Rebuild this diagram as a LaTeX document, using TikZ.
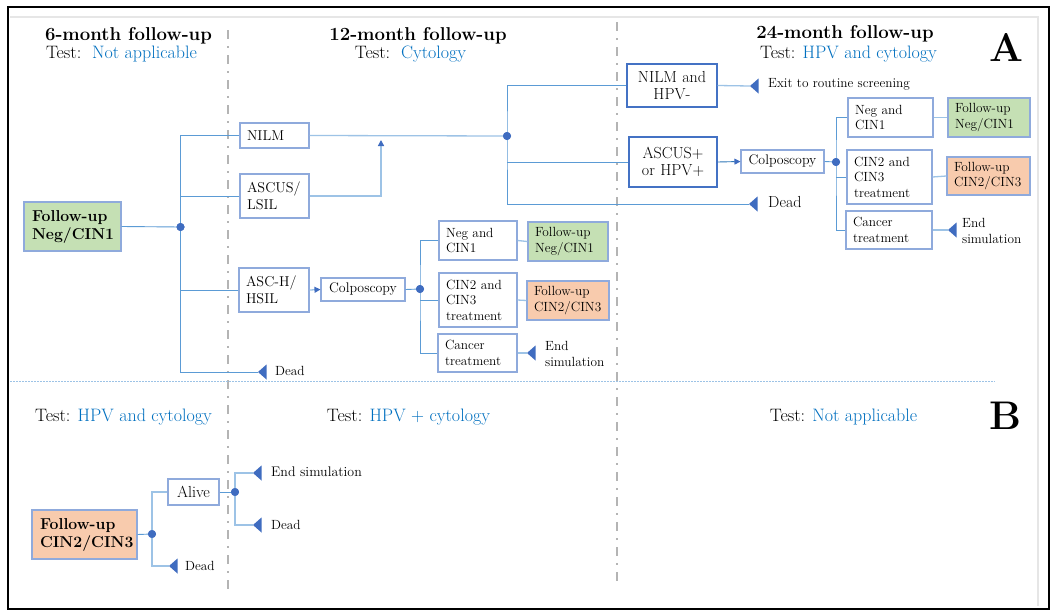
\documentclass[tikz,border=0pt]{standalone}
\usetikzlibrary{arrows.meta}
\definecolor{lnc}{HTML}{5B9BD5}
\definecolor{lnl}{HTML}{9DC3E6}
\definecolor{boxc}{HTML}{8FAADC}
\definecolor{boxd}{HTML}{4472C4}
\definecolor{tric}{HTML}{3F6CC0}
\definecolor{txb}{HTML}{0070C0}
\definecolor{gfill}{HTML}{C5E0B4}
\definecolor{ofill}{HTML}{F8CBAD}
\definecolor{divc}{HTML}{B4B4B4}
\definecolor{arrc}{HTML}{2E75B6}
\definecolor{framec}{HTML}{E6E6E6}
\newcommand\fsSm{\fontsize{13.3}{15.5}\selectfont}
\newcommand\fsCo{\fontsize{13.9}{16}\selectfont}
\newcommand\fsMd{\fontsize{14.3}{17}\selectfont}
\newcommand\fsLg{\fontsize{16}{17}\selectfont}
\newcommand\fsBx{\fontsize{15.8}{18}\selectfont\bfseries}
\newcommand\fsTi{\fontsize{18.6}{20}\selectfont\bfseries}
\newcommand\fsTe{\fontsize{18}{20}\selectfont}
\newcommand\fsLet{\fontsize{40}{44}\selectfont\bfseries}
\newcommand\mytri[1]{\fill[tric] (#1) -- ++(8.5,7.5) -- ++(0,-15) -- cycle;}
\tikzset{
  bx/.style={draw=boxc, line width=1.1pt, fill=white, inner xsep=7pt, inner ysep=0pt, align=left},
  bxd/.style={bx, draw=boxd, line width=1.4pt, align=center},
  ln/.style={draw=lnc, line width=0.9pt},
  ln2/.style={draw=lnl, line width=1.3pt},
  dotn/.style={circle, fill=tric, inner sep=0pt, minimum size=8pt},
  lab/.style={inner sep=0pt, anchor=west, align=left},
  divline/.style={draw=divc, line width=1.8pt, dash pattern=on 9pt off 7pt on 2pt off 7pt},
  smarr/.style={-{Triangle[width=6pt,length=6pt,color=tric]}},
}
\begin{document}
\begin{tikzpicture}[x=1pt,y=-1pt]
\useasboundingbox (0,0) rectangle (1058,616);
\fill[white] (0,0) rectangle (1058,616);
% frames
\draw[framec, line width=1.2pt] (10,17) -- (1038,17) -- (1038,606);
\draw[black, line width=2.4pt] (8,7) rectangle (1049,609);
% dividers
\draw[divline] (228,30) -- (228,592);
\draw[divline] (617,22) -- (617,582);
\draw[lnl, line width=0.9pt, dash pattern=on 1.5pt off 1.5pt] (10,381) -- (995,381);
% titles
\node[inner sep=0pt, anchor=base, font=\fsTi] (h1) at (128.5,40) {6-month follow-up};
\node[inner sep=0pt, anchor=base, font=\fsTe] (s1) at (121.5,58) {Test:\ \ \textcolor{txb}{Not applicable}};
\node[inner sep=0pt, anchor=base, font=\fsTi] (h2) at (418,40) {12-month follow-up};
\node[inner sep=0pt, anchor=base, font=\fsTe] (s2) at (410.5,58) {Test:\ \ \textcolor{txb}{Cytology}};
\node[inner sep=0pt, anchor=base, font=\fsTi] (h3) at (845,38) {24-month follow-up};
\node[inner sep=0pt, anchor=base, font=\fsTe] (s3) at (848.5,58) {Test: \textcolor{txb}{HPV and cytology}};
\node[inner sep=0pt, anchor=base, font=\fsLet] (lA) at (1006,61) {A};
\node[inner sep=0pt, anchor=base, font=\fsLet] (lB) at (1005,429) {B};
\node[inner sep=0pt, anchor=base, font=\fsTe] (s4) at (123.5,421) {Test: \textcolor{txb}{HPV and cytology}};
\node[inner sep=0pt, anchor=base, font=\fsTe] (s5) at (408.5,421) {Test: \textcolor{txb}{HPV + cytology}};
\node[inner sep=0pt, anchor=base, font=\fsTe] (s6) at (843.5,421) {Test: \textcolor{txb}{Not applicable}};
% boxes: part A, left
\node[bx, fill=gfill, font=\fsBx, minimum width=97pt, text width=81pt, minimum height=49pt, inner xsep=8pt] (fuA) at (72.5,226.5) {Follow-up\\Neg/CIN1};
\node[bx, font=\fsMd, minimum width=69pt, text width=55pt, minimum height=25pt] (nilm) at (274.5,135.5) {NILM};
\node[bx, font=\fsMd, minimum width=69pt, text width=55pt, minimum height=44pt] (ascus) at (274.5,196) {ASCUS/\\LSIL};
\node[bx, font=\fsMd, minimum width=70pt, text width=56pt, minimum height=44pt] (asch) at (274,290) {ASC-H/\\HSIL};
\node[bx, font=\fsCo, align=center, inner xsep=2pt, minimum width=84pt, text width=80pt, minimum height=23pt] (colpo1) at (363,289.5) {Colposcopy};
\node[bx, font=\fsSm, minimum width=78pt, text width=64pt, minimum height=39pt] (neg1) at (478,240.5) {Neg and\\CIN1};
\node[bx, font=\fsSm, minimum width=78pt, text width=64pt, minimum height=54pt] (cin1) at (478,300) {CIN2 and\\CIN3\\treatment};
\node[bx, font=\fsSm, minimum width=79pt, text width=65pt, minimum height=38pt] (can1) at (477.5,353) {Cancer\\treatment};
\node[bx, fill=gfill, font=\fsSm, minimum width=80pt, text width=66pt, minimum height=39pt] (fu1g) at (568,241.5) {Follow-up\\Neg/CIN1};
\node[bx, fill=ofill, font=\fsSm, minimum width=82pt, text width=68pt, minimum height=39pt] (fu1o) at (568,300.5) {Follow-up\\CIN2/CIN3};
% boxes: part A, right
\node[bxd, font=\fsLg, minimum width=90pt, text width=76pt, minimum height=43pt] (nilmhpv) at (672,85.5) {NILM and\\HPV-};
\node[bxd, font=\fsLg, minimum width=88pt, text width=74pt, minimum height=50pt] (ascplus) at (673,162) {ASCUS+\\or HPV+};
\node[bx, font=\fsCo, align=center, inner xsep=2pt, minimum width=83pt, text width=79pt, minimum height=23pt] (colpo2) at (782.5,161.5) {Colposcopy};
\node[bx, font=\fsSm, minimum width=85pt, text width=71pt, minimum height=39pt] (neg2) at (890.5,117.5) {Neg and\\CIN1};
\node[bx, font=\fsSm, minimum width=85pt, text width=71pt, minimum height=54pt] (cin2) at (889.5,177) {CIN2 and\\CIN3\\treatment};
\node[bx, font=\fsSm, minimum width=86pt, text width=72pt, minimum height=38pt] (can2) at (889,230) {Cancer\\treatment};
\node[bx, fill=gfill, font=\fsSm, minimum width=82pt, text width=68pt, minimum height=39pt] (fu2g) at (989,117.5) {Follow-up\\Neg/CIN1};
\node[bx, fill=ofill, font=\fsSm, minimum width=83pt, text width=69pt, minimum height=38pt] (fu2o) at (988.5,176) {Follow-up\\CIN2/CIN3};
% boxes: part B
\node[bx, fill=ofill, font=\fsBx, minimum width=105pt, text width=89pt, minimum height=49pt, inner xsep=8pt] (fuB) at (84.5,534.5) {Follow-up\\CIN2/CIN3};
\node[bx, font=\fsLg, align=center, inner xsep=2pt, minimum width=51pt, text width=47pt, minimum height=26pt] (alive) at (193.5,492) {Alive};
% dots
\node[dotn] (d1) at (180.5,227) {};
\node[dotn] (d2) at (507,136) {};
\node[dotn] (d3) at (420,289) {};
\node[dotn] (d4) at (836,162) {};
\node[dotn] (d5) at (152,534) {};
\node[dotn] (d6) at (235,492) {};
% terminal triangles
\coordinate (t1) at (258,372);
\coordinate (t2) at (750,86);
\coordinate (t3) at (749,204);
\coordinate (t4) at (527,353);
\coordinate (t5) at (948,230);
\coordinate (t6) at (169,566);
\coordinate (t7) at (253,473);
\coordinate (t8) at (253,525);
\coordinate (a1) at (381,140);
% connectors part A left
\draw[ln] (fuA.east) -- (d1.center);
\draw[ln] (nilm.west) -| (d1.center) |- (t1);
\draw[ln] (ascus.west) -- (ascus.west -| d1.center);
\draw[ln] (asch.west) -- (asch.west -| d1.center);
\draw[ln2] (nilm.east) -- (d2.center);
\draw[ln2, smarr] (ascus.east) -| (a1);
\draw[ln2, smarr] (asch.east) -- (colpo1.west);
\draw[ln] (colpo1.east) -- (d3.center);
\draw[ln] (neg1.west) -| (d3.center) |- (can1.west);
\draw[ln] (cin1.west) -- (cin1.west -| d3.center);
\draw[ln2] (neg1.east) -- (fu1g.west);
\draw[ln2] (cin1.east) -- (fu1o.west);
\draw[ln2] (can1.east) -- (t4);
% connectors part A right
\draw[ln] (nilmhpv.west) -| (d2.center) |- (t3);
\draw[ln] (ascplus.west) -- (ascplus.west -| d2.center);
\draw[ln2] (nilmhpv.east) -- (t2);
\draw[draw=arrc, line width=0.9pt, smarr] (ascplus.east) -- (colpo2.west);
\draw[ln] (colpo2.east) -- (d4.center);
\draw[ln] (neg2.west) -| (d4.center) |- (can2.west);
\draw[ln] (cin2.west) -- (cin2.west -| d4.center);
\draw[ln2] (neg2.east) -- (fu2g.west);
\draw[ln2] (cin2.east) -- (fu2o.west);
\draw[ln2] (can2.east) -- (t5);
% connectors part B
\draw[ln] (fuB.east) -- (d5.center);
\draw[ln2] (alive.west) -| (d5.center) |- (t6);
\draw[ln] (alive.east) -- (d6.center);
\draw[ln2] (t7) -| (d6.center) |- (t8);
% redraw dots on top
\foreach \d in {d1,d2,d3,d4,d5,d6} \fill[tric] (\d) circle (4pt);
% triangles
\mytri{t1}\mytri{t2}\mytri{t3}\mytri{t4}\mytri{t5}\mytri{t6}\mytri{t7}\mytri{t8}
% labels
\node[lab, font=\fsSm] (l1) at (275,371) {Dead};
\node[lab, font=\fsSm] (l2) at (768,84) {Exit to routine screening};
\node[lab, font=\fsLg] (l3) at (768,202) {Dead};
\node[lab, font=\fsSm] (l4) at (545,354) {End\\simulation};
\node[lab, font=\fsSm] (l5) at (962,231) {End\\simulation};
\node[lab, font=\fsSm] (l6) at (185,566) {Dead};
\node[lab, font=\fsCo] (l7) at (271,472) {End simulation};
\node[lab, font=\fsSm] (l8) at (271,525) {Dead};
\end{tikzpicture}
\end{document}
